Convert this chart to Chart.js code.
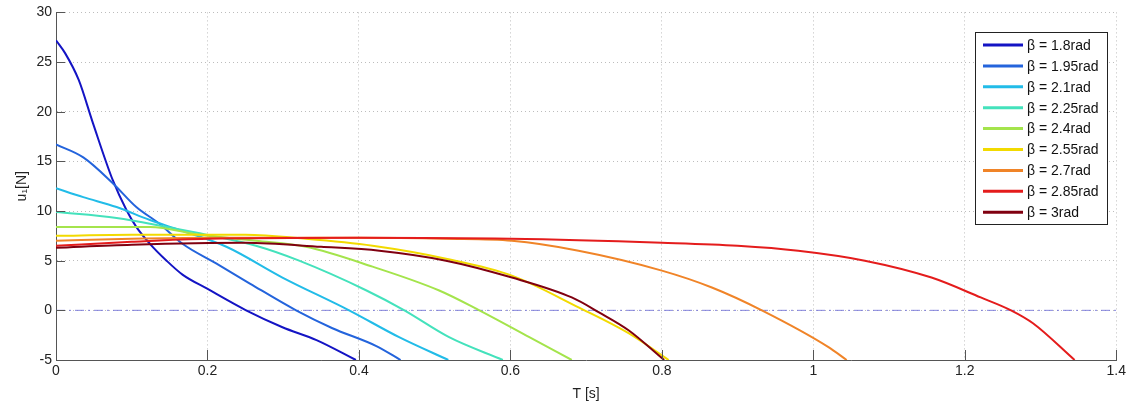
<!DOCTYPE html>
<html>
<head>
<meta charset="utf-8">
<script src="https://cdn.jsdelivr.net/npm/chart.js@4"></script>
<style>
  body { margin: 0; background: #fff; }
  #wrap { width: 1129px; height: 408px; }
</style>
</head>
<body>
<div id="wrap"><canvas id="myChart" width="1129" height="408"></canvas></div>
<script>
// legend labels, one per curve
const betaLabels = ['β = 1.8rad', 'β = 1.95rad', 'β = 2.1rad', 'β = 2.25rad', 'β = 2.4rad', 'β = 2.55rad', 'β = 2.7rad', 'β = 2.85rad', 'β = 3rad'];
const betaColors = ['#1414c4', '#2464dc', '#22bce8', '#44e2bc', '#a4e44c', '#f2da00', '#f08428', '#e41c1c', '#800010'];

// T [s] and u1 [N], per beta
const t180 = [0, 0.012, 0.03, 0.049, 0.075, 0.093, 0.106, 0.124, 0.146, 0.167, 0.199, 0.251, 0.299, 0.344, 0.396];
const u180 = [27.2, 25.9, 23.2, 18.8, 13.1, 10.1, 8.4, 6.7, 5.0, 3.6, 2.2, 0, -1.7, -3.0, -5];
const t195 = [0, 0.036, 0.075, 0.106, 0.137, 0.167, 0.212, 0.256, 0.317, 0.365, 0.423, 0.455];
const u195 = [16.7, 15.4, 12.8, 10.4, 8.7, 6.7, 4.7, 2.7, 0, -1.8, -3.6, -5];
const t210 = [0, 0.036, 0.08, 0.124, 0.159, 0.225, 0.299, 0.387, 0.453, 0.518];
const u210 = [12.3, 11.4, 10.4, 9.1, 8.2, 6.4, 3.3, 0, -2.7, -5];
const t225 = [0, 0.08, 0.146, 0.2, 0.264, 0.321, 0.41, 0.46, 0.519, 0.59];
const u225 = [9.9, 9.3, 8.4, 7.6, 6.5, 5.0, 2.0, 0, -2.7, -5];
const t240 = [0, 0.124, 0.19, 0.264, 0.33, 0.418, 0.506, 0.559, 0.625, 0.681];
const u240 = [8.4, 8.4, 7.6, 7.0, 6.4, 4.4, 2.0, 0, -2.7, -5];
const t255 = [0, 0.1, 0.25, 0.33, 0.418, 0.515, 0.602, 0.69, 0.756, 0.809];
const u255 = [7.5, 7.6, 7.6, 7.2, 6.5, 5.2, 3.5, 0.3, -2.3, -5];
const t270 = [0, 0.1, 0.2, 0.4, 0.515, 0.602, 0.69, 0.8, 0.866, 0.932, 1.02, 1.044];
const u270 = [7.0, 7.2, 7.3, 7.3, 7.2, 7.0, 6.0, 4.0, 2.3, 0, -3.7, -5];
const t285 = [0, 0.1, 0.2, 0.4, 0.6, 0.8, 0.9, 0.98, 1.068, 1.156, 1.221, 1.261, 1.29, 1.345];
const u285 = [6.5, 6.9, 7.2, 7.3, 7.2, 6.8, 6.5, 6.0, 5.0, 3.3, 1.3, 0, -1.3, -5];
const t300 = [0, 0.1, 0.25, 0.35, 0.427, 0.515, 0.602, 0.681, 0.717, 0.756, 0.803];
const u300 = [6.3, 6.6, 6.8, 6.4, 6.0, 5.0, 3.3, 1.3, -0.2, -2.0, -5];

const tSeries = [t180, t195, t210, t225, t240, t255, t270, t285, t300];
const uSeries = [u180, u195, u210, u225, u240, u255, u270, u285, u300];

// axis ticks
const xTicks = [0, 0.2, 0.4, 0.6, 0.8, 1, 1.2, 1.4];
const yTicks = [-5, 0, 5, 10, 15, 20, 25, 30];

const datasets = tSeries.map(function (ts, i) {
    return {
        label: betaLabels[i],
        data: ts.map((t, k) => ({ x: t, y: uSeries[i][k] })),
        borderColor: betaColors[i],
        borderWidth: 2,
        pointRadius: 0,
        fill: false,
        cubicInterpolationMode: 'monotone',
        order: tSeries.length - i // later curves on top
    };
});

// dash-dot zero line
datasets.push({
    label: 'zero',
    isZero: true,
    data: [{ x: 0, y: 0 }, { x: 1.4, y: 0 }],
    borderColor: 'rgba(110,110,215,0.85)',
    borderWidth: 1,
    borderDash: [9, 4, 2, 4],
    pointRadius: 0,
    order: 100
});

// small inward ticks like matlab
const innerTicks = {
    id: 'innerTicks',
    afterDatasetsDraw(chart) {
        const ctx = chart.ctx;
        const a = chart.chartArea;
        const xs = chart.scales.x, ys = chart.scales.y;
        ctx.save();
        ctx.strokeStyle = '#555';
        ctx.lineWidth = 1;
        ctx.beginPath();
        xTicks.forEach(function (v) {
            const px = Math.round(xs.getPixelForValue(v)) + 0.5;
            ctx.moveTo(px, a.bottom);
            ctx.lineTo(px, a.bottom - 10);
        });
        yTicks.forEach(function (v) {
            const py = Math.round(ys.getPixelForValue(v)) + 0.5;
            ctx.moveTo(a.left, py);
            ctx.lineTo(a.left + 9, py);
        });
        ctx.stroke();
        ctx.restore();
    }
};

// legend box drawn inside the axes, top right
const boxLegend = {
    id: 'boxLegend',
    afterDraw(chart) {
        const ctx = chart.ctx;
        const items = chart.data.datasets.filter(d => !d.isZero);
        const x0 = 975, y0 = 32, w = 132, h = 192;
        ctx.save();
        ctx.fillStyle = '#fff';
        ctx.fillRect(x0, y0, w, h);
        ctx.strokeStyle = '#222';
        ctx.lineWidth = 1;
        ctx.strokeRect(x0 + 0.5, y0 + 0.5, w, h);
        ctx.font = '14px "Liberation Sans", Arial, sans-serif';
        ctx.textBaseline = 'middle';
        items.forEach(function (d, i) {
            const y = 45 + i * 20.9;
            ctx.strokeStyle = d.borderColor;
            ctx.lineWidth = 3;
            ctx.beginPath();
            ctx.moveTo(983, y);
            ctx.lineTo(1023, y);
            ctx.stroke();
            ctx.fillStyle = '#111';
            ctx.fillText(d.label, 1027, y + 1);
        });
        ctx.restore();
    }
};

const fontBase = { family: '"Liberation Sans", Arial, sans-serif', size: 14 };

new Chart(document.getElementById('myChart'), {
    type: 'line',
    data: { datasets: datasets },
    plugins: [innerTicks, boxLegend],
    options: {
        responsive: false,
        animation: false,
        layout: { padding: { top: 12, right: 10, left: 0, bottom: 0 } },
        plugins: {
            legend: { display: false },
            tooltip: { enabled: false }
        },
        scales: {
            x: {
                type: 'linear',
                min: 0,
                max: 1.4,
                afterBuildTicks: function (scale) { scale.ticks = xTicks.map(v => ({ value: v })); },
                afterFit: function (scale) { scale.height = 48; },
                ticks: {
                    color: '#222',
                    font: fontBase,
                    padding: 3,
                    callback: v => String(+(+v).toFixed(1))
                },
                grid: { color: '#bdbdbd', drawTicks: false },
                border: { display: true, color: '#555', width: 1, dash: [1, 3] },
                title: { display: true, text: 'T [s]', color: '#222', font: fontBase, padding: { top: 2, bottom: 5 } }
            },
            y: {
                type: 'linear',
                min: -5,
                max: 30,
                afterBuildTicks: function (scale) { scale.ticks = yTicks.map(v => ({ value: v })); },
                afterFit: function (scale) { scale.width = 56; },
                ticks: {
                    color: '#222',
                    font: fontBase,
                    padding: 4,
                    callback: v => String(v)
                },
                grid: { color: '#bdbdbd', drawTicks: false },
                border: { display: true, color: '#555', width: 1, dash: [1, 3] },
                title: { display: true, text: 'u₁[N]', color: '#222', font: fontBase, padding: { top: 14, bottom: 0 } }
            }
        }
    }
});
</script>
</body>
</html>
